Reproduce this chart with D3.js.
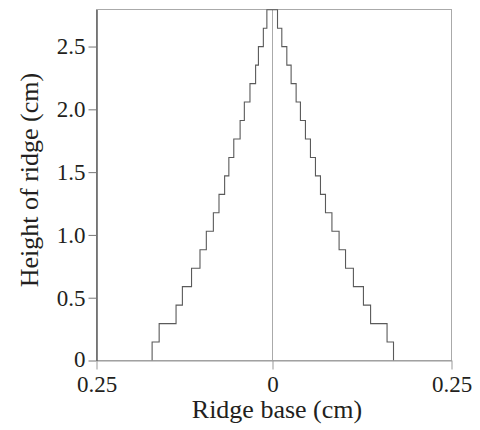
<!DOCTYPE html>
<html>
<head>
<meta charset="utf-8">
<script src="https://cdn.jsdelivr.net/npm/d3@7"></script>
<style>
  body { margin: 0; background: #fff; }
  svg text { font-family: "Liberation Serif", "DejaVu Serif", serif; fill: #231f20; }
</style>
</head>
<body>
<div class="ridge-chart"></div>
<script>
// layer levels of the ridge (cm), bottom to top
const levels = [0, 0.147, 0.294, 0.441, 0.588, 0.735, 0.882, 1.029, 1.176, 1.323,
  1.470, 1.617, 1.764, 1.911, 2.058, 2.205, 2.352, 2.499, 2.646, 2.793];
// left and right edge of each layer (cm), bottom layer first
const leftEdge = [-0.171, -0.161, -0.137, -0.128, -0.115, -0.103, -0.094, -0.084, -0.076, -0.068,
  -0.062, -0.055, -0.046, -0.040, -0.032, -0.024, -0.020, -0.013, -0.008];
const rightEdge = [0.169, 0.160, 0.137, 0.127, 0.113, 0.102, 0.093, 0.083, 0.074, 0.067,
  0.060, 0.053, 0.046, 0.039, 0.033, 0.026, 0.020, 0.013, 0.007];
const xTicks = [-0.25, 0, 0.25];
const yTicks = [0, 0.5, 1.0, 1.5, 2.0, 2.5];

const width = 480, height = 430;
const svg = d3.select('.ridge-chart').append('svg')
  .attr('width', width).attr('height', height);

// 0 sits a bit left of the frame centre in the original, so piecewise scale
const x = d3.scaleLinear().domain([-0.25, 0, 0.25]).range([96.5, 272.5, 451.5]);
const y = d3.scaleLinear().domain([0, 2.795]).range([360.5, 9.5]);

// frame
svg.append('rect')
  .attr('x', x(-0.25)).attr('y', y(2.795))
  .attr('width', x(0.25) - x(-0.25)).attr('height', y(0) - y(2.795))
  .attr('fill', 'none').attr('stroke', '#aaa').attr('stroke-width', 1);

// zero line
svg.append('line')
  .attr('x1', x(0)).attr('x2', x(0))
  .attr('y1', y(2.795)).attr('y2', y(0))
  .attr('stroke', '#aaa').attr('stroke-width', 1);

// staircase outline: up the left side, down the right side
const pts = [];
leftEdge.forEach((v, i) => {
  pts.push([v, levels[i]]);
  pts.push([v, levels[i + 1]]);
});
for (let i = rightEdge.length - 1; i >= 0; i--) {
  pts.push([rightEdge[i], levels[i + 1]]);
  pts.push([rightEdge[i], levels[i]]);
}
const line = d3.line().x(d => x(d[0])).y(d => y(d[1]));
svg.append('path')
  .attr('d', line(pts))
  .attr('fill', 'none').attr('stroke', '#5a5a5a').attr('stroke-width', 1.1);

// x axis
const xAxis = d3.axisBottom(x).tickValues(xTicks)
  .tickFormat(d => d === 0 ? '0' : d3.format('.2f')(Math.abs(d)))
  .tickSizeInner(9).tickSizeOuter(0);
const xg = svg.append('g').attr('transform', `translate(0,${y(0)})`).call(xAxis);
xg.select('.domain').attr('stroke', '#999');
xg.selectAll('.tick line').attr('stroke', '#999');
xg.selectAll('text').attr('y', 31).attr('dy', 0)
  .style('font-size', '23px').attr('fill', '#231f20');

// y axis
const yAxis = d3.axisLeft(y).tickValues(yTicks)
  .tickFormat(d => d === 0 ? '0' : d3.format('.1f')(d))
  .tickSizeInner(8).tickSizeOuter(0).tickPadding(3);
const yg = svg.append('g').attr('transform', `translate(${x(-0.25)},0)`).call(yAxis);
yg.select('.domain').attr('stroke', '#666').attr('stroke-width', 1.6);
yg.selectAll('.tick line').attr('stroke', '#777');
yg.selectAll('text').style('font-size', '23px').attr('fill', '#231f20')
  .attr('dy', d => d === 0 ? '0.24em' : '0.32em');

// titles
svg.append('text')
  .attr('x', 277).attr('y', 418)
  .attr('text-anchor', 'middle')
  .style('font-size', '26px')
  .text('Ridge base (cm)');
svg.append('text')
  .attr('transform', 'translate(38,180) rotate(-90)')
  .attr('text-anchor', 'middle')
  .style('font-size', '26px')
  .text('Height of ridge (cm)');
</script>
</body>
</html>
